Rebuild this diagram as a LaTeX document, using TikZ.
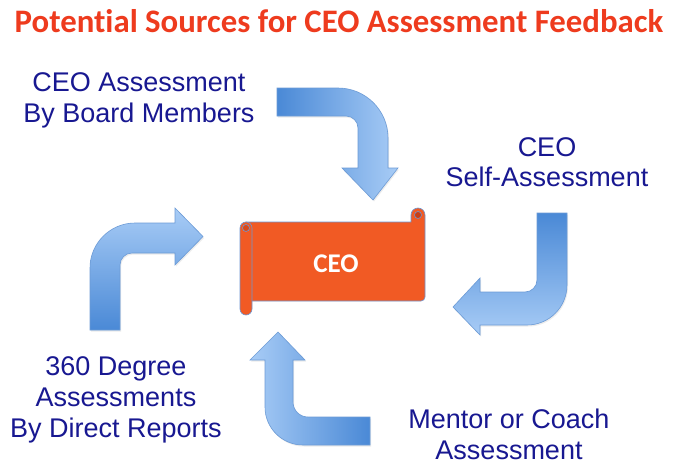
\documentclass[tikz,border=0pt]{standalone}
\usepackage{fontspec}
\setmainfont{Liberation Sans}
\newfontfamily\titlefont[Ligatures=NoCommon]{Carlito}
\usetikzlibrary{shadows}
\definecolor{titlered}{RGB}{238,59,30}
\definecolor{navytext}{RGB}{24,24,145}
\definecolor{arrowdark}{RGB}{74,137,214}
\definecolor{arrowlight}{RGB}{168,204,246}
\definecolor{arrowline}{RGB}{108,155,214}
\definecolor{scrollfill}{RGB}{241,90,36}
\definecolor{scrolldark}{RGB}{200,62,22}
\definecolor{scrollline}{RGB}{110,150,210}
\begin{document}
\begin{tikzpicture}[x=1pt,y=-1pt,
  arrowshape/.style={draw=arrowline, line width=0.6pt, line join=miter,
    drop shadow={opacity=0.15, shadow xshift=1pt, shadow yshift=-1.5pt}},
  labeltext/.style={text=navytext, font=\fontsize{27}{31}\selectfont, inner sep=0pt, anchor=base},
  scrollpart/.style={fill=scrollfill, draw=scrollline, line width=0.6pt}]
\useasboundingbox (0,0) rectangle (680,469);
\fill[white] (0,0) rectangle (680,469);

% title
\node[anchor=base, text=titlered, font=\titlefont\bfseries\fontsize{32.8}{36}\selectfont, inner sep=0pt] (title) at (339,32) {Potential Sources for CEO Assessment Feedback};

% top arrow (board members)
\draw[arrowshape, left color=arrowdark, right color=arrowlight]
  (277,88) -- (338,88) .. controls (365.6,88) and (388,110.4) .. (388,138)
  -- (388,168) -- (398,168) -- (373,200) -- (342,168) -- (358,168) -- (358,128)
  .. controls (358,121.4) and (352.6,116) .. (346,116) -- (277,116) -- cycle;

% left arrow (360 degree)
\draw[arrowshape, bottom color=arrowdark, top color=arrowlight]
  (90,330) -- (90,268) .. controls (90,243.2) and (110.2,223) .. (135,223)
  -- (175,223) -- (175,208) -- (203,236.5) -- (175,265) -- (175,253) -- (132,253)
  .. controls (125.4,253) and (120,258.4) .. (120,265) -- (120,330) -- cycle;

% right arrow (self-assessment)
\draw[arrowshape, top color=arrowdark, bottom color=arrowlight]
  (537,213) -- (567,213) -- (567,285) .. controls (567,307.1) and (549.1,325) .. (527,325)
  -- (480,325) -- (480,335) -- (453,307) -- (480,278) -- (480,292) -- (525,292)
  .. controls (531.6,292) and (537,286.6) .. (537,280) -- cycle;

% bottom arrow (mentor)
\draw[arrowshape, right color=arrowdark, left color=arrowlight]
  (370,417) -- (370,445) -- (303,445) .. controls (282,445) and (265,428) .. (265,407)
  -- (265,360) -- (250,360) -- (278,332) -- (305,360) -- (293,360) -- (293,402)
  .. controls (293,410.3) and (299.7,417) .. (308,417) -- cycle;

% CEO scroll
\draw[scrollpart] (246,222) -- (411,222) -- (411,215)
  .. controls (411,211.1) and (414.1,208) .. (418,208)
  .. controls (421.9,208) and (425,211.1) .. (425,215) -- (425,297)
  .. controls (425,299.2) and (423.2,301) .. (421,301) -- (246,301) -- cycle;
\draw[scrollpart] (240,228) .. controls (240,224.7) and (242.7,222) .. (246,222)
  .. controls (249.3,222) and (252,224.7) .. (252,228) -- (252,309)
  .. controls (252,312.3) and (249.3,315) .. (246,315)
  .. controls (242.7,315) and (240,312.3) .. (240,309) -- cycle;
\fill[scrolldark] (418,215) circle[radius=3.5];
\draw[scrollline, line width=0.6pt] (418,215) circle[radius=3.5];
\draw[scrollline, line width=0.6pt, fill=scrolldark!60!scrollfill] (246,228) circle[radius=3.5];
\node[anchor=base, text=white, font=\titlefont\bfseries\fontsize{27}{30}\selectfont, inner sep=0pt] (ceo) at (336,272.5) {CEO};

% labels
\node[labeltext] (board1) at (139,91) {CEO Assessment};
\node[labeltext] (board2) at (139,122) {By Board Members};
\node[labeltext] (self1) at (547,156) {CEO};
\node[labeltext] (self2) at (547,186) {Self-Assessment};
\node[labeltext] (deg1) at (116,375) {360 Degree};
\node[labeltext] (deg2) at (116,406) {Assessments};
\node[labeltext] (deg3) at (116,437) {By Direct Reports};
\node[labeltext] (mentor1) at (509,428) {Mentor or Coach};
\node[labeltext] (mentor2) at (509,459) {Assessment};
\end{tikzpicture}
\end{document}
